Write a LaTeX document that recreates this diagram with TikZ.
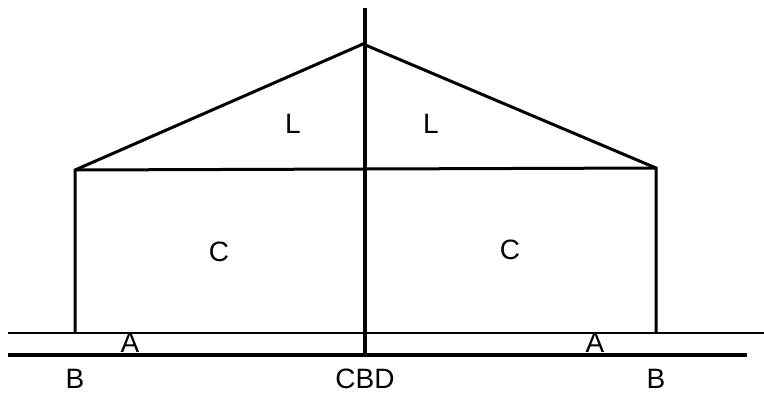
\documentclass[tikz,border=0pt]{standalone}
\usepackage{fontspec}
\setmainfont{Liberation Sans}
\usepackage{tikz}
\tikzset{
  font={\fontsize{28pt}{32}\selectfont}}

\begin{document}
\begin{tikzpicture}[x=1pt,y=1pt]
\tikzstyle{every node}+=[inner sep=0pt]
\useasboundingbox (0,0) rectangle (764,-394);
\coordinate (apex) at (363,-44);
\coordinate (wl) at (75,-170);
\coordinate (wr) at (656,-168);
\coordinate (fl) at (75,-333);
\coordinate (fr) at (656,-333);
\draw [black, line width=3pt, line join=miter] (fl) -- (wl) -- (apex) -- (wr) -- (fr);
\draw [black, line width=3pt] (wl) -- (wr);
\draw [black, line width=2.8pt] (8,-333) -- (764,-333);
\draw [black, line width=4.6pt] (8,-355) -- (747,-355);
\draw [black, line width=4.6pt] (365,-8) -- (365,-357);
\node (l1) at (293,-124) {L};
\node (l2) at (431,-124) {L};
\node (c1) at (219,-252) {C};
\node (c2) at (510,-250) {C};
\node (a1) at (130,-343) {A};
\node (a2) at (595,-343) {A};
\node (b1) at (75,-379) {B};
\node (b2) at (656,-379) {B};
\node (cbd) at (365,-379) {CBD};
\end{tikzpicture}
\end{document}
